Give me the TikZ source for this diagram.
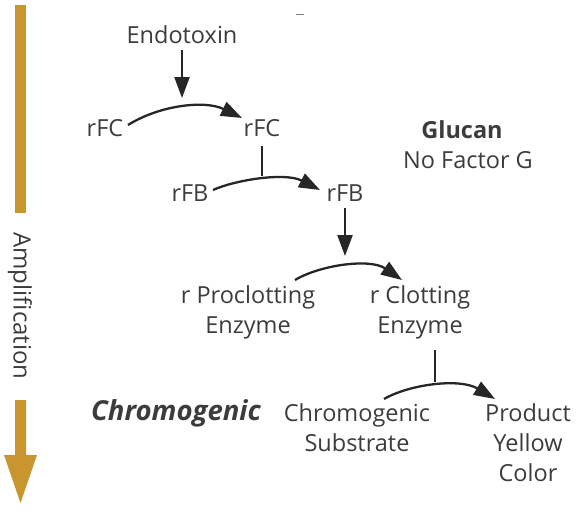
\documentclass[tikz,border=0pt]{standalone}
\usepackage{fontspec}
\setmainfont{Open Sans}
\usetikzlibrary{arrows.meta}
\definecolor{amber}{HTML}{C8952F}
\definecolor{txt}{HTML}{3C3C3C}
\tikzset{
  lbl/.style={text=txt,font=\fontsize{23.5}{30}\selectfont,inner sep=0pt,align=center},
  conn/.style={line width=2.3pt,black!85},
  arr/.style={conn,-{Triangle[length=21pt,width=15pt]}},
}
\begin{document}
\begin{tikzpicture}[x=1pt,y=-1pt]
\useasboundingbox (0,0) rectangle (578,512);
% amplification arrow
\fill[amber] (15,5) rectangle (26,213);
\node[text=txt,font=\fontsize{24}{26}\selectfont,rotate=-90,inner sep=0pt] (amp) at (20,306) {Amplification};
\fill[amber] (15,400) -- (26,400) -- (26,455) -- (37,455) -- (20.5,503) -- (4,455) -- (15,455) -- cycle;
% stray mark
\draw[gray,line width=1pt] (296,14) -- (304,14);
% nodes
\node[lbl] (endo) at (182,35) {Endotoxin};
\node[lbl] (fc1) at (105,128) {rFC};
\node[lbl] (fc2) at (262,128) {rFC};
\node[lbl] (fb1) at (190,193) {rFB};
\node[lbl] (fb2) at (345,193) {rFB};
\node[lbl] (pro) at (248,312) {r Proclotting\\Enzyme};
\node[lbl] (clot) at (420,312) {r Clotting\\Enzyme};
\node[lbl] (sub) at (357,428) {Chromogenic\\Substrate};
\node[lbl] (prod) at (528,443) {Product\\Yellow\\Color};
\node[lbl,font=\fontsize{27.5}{30}\selectfont\bfseries\itshape] (chr) at (176,413) {Chromogenic};
\node[lbl,font=\fontsize{23.5}{30}\selectfont\bfseries] (glu) at (462,130) {Glucan};
\node[lbl] (nfg) at (468,160) {No Factor G};
% coordinates
\coordinate (e1) at (182,50);
\coordinate (e2) at (182,98);
\coordinate (c1a) at (128,125);
\coordinate (c1b) at (242,118);
\coordinate (v2) at (262,146);
\coordinate (c2a) at (213,190);
\coordinate (c2b) at (320,190);
\coordinate (c2t) at (262,176);
\coordinate (b1) at (345,208);
\coordinate (b2) at (345,256);
\coordinate (c3a) at (295,280);
\coordinate (c3b) at (402,280);
\coordinate (v4) at (435,350);
\coordinate (c4a) at (384,399);
\coordinate (c4b) at (495,399);
\coordinate (c4t) at (435,382);
% connectors
\draw[arr] (e1) -- (e2);
\draw[arr] (c1a) .. controls (160,105) and (205,100) .. (c1b);
\draw[conn] (v2) -- (c2t);
\draw[arr] (c2a) .. controls (235,180) and (285,172) .. (c2b);
\draw[arr] (b1) -- (b2);
\draw[arr] (c3a) .. controls (320,265) and (370,258) .. (c3b);
\draw[conn] (v4) -- (c4t);
\draw[arr] (c4a) .. controls (410,384) and (460,378) .. (c4b);
\end{tikzpicture}
\end{document}
